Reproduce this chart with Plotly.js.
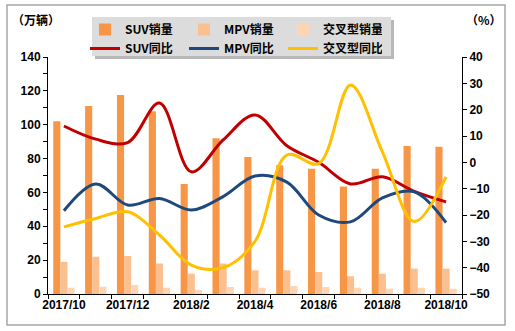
<!DOCTYPE html>
<html>
<head>
<meta charset="utf-8">
<script src="https://cdn.plot.ly/plotly-3.0.1.min.js"></script>
<style>
html,body{margin:0;padding:0;background:#fff;}
#chart{width:515px;height:331px;}
</style>
</head>
<body>
<div id="chart"></div>
<script>
// ---- data ----
var categories = ['2017/10','2017/11','2017/12','2018/1','2018/2','2018/3','2018/4','2018/5','2018/6','2018/7','2018/8','2018/9','2018/10'];
var tickLabels = ['2017/10','','2017/12','','2018/2','','2018/4','','2018/6','','2018/8','','2018/10'];
var suvSales   = [102, 111, 117.5, 108, 65, 92, 81, 76, 74, 63.5, 74, 87.5, 87];
var mpvSales   = [19, 22, 22.5, 18, 12, 18, 14, 14, 13, 10.5, 12, 15, 15];
var crossSales = [3.7, 4.3, 5.3, 3.7, 2.4, 4.1, 3.7, 4.7, 4.1, 3.7, 3.1, 3.7, 3.1];
var suvYoY   = [13.8, 8.8, 7.5, 22.5, -3.6, 8.5, 18, 6.3, 0, -8.2, -5.5, -11, -15];
var mpvYoY   = [-18.4, -8.2, -16.2, -13.7, -18.1, -13, -5.2, -7.5, -20, -22.6, -13.5, -11.2, -22.9];
var crossYoY = [-24.5, -21.3, -18.8, -27.6, -39, -40, -30, 2.8, -0.5, 29.4, 4, -22.5, -5.5];
var seriesNames = ['SUV销量','MPV销量','交叉型销量','SUV同比','MPV同比','交叉型同比'];

var cjk = '"Noto Sans CJK SC", "Noto Sans", sans-serif';
var latin = '"Liberation Sans", Arial, sans-serif';

function bar(y, name, color){
  return {type:'bar', x:categories, y:y, name:name, marker:{color:color}, yaxis:'y', legend:'legend'};
}
function line(y, name, color){
  return {type:'scatter', mode:'lines', x:categories, y:y, name:name, yaxis:'y2', legend:'legend2',
          line:{color:color, width:3, shape:'spline', smoothing:1}};
}

var traces = [
  bar(suvSales, seriesNames[0], '#F79646'),
  bar(mpvSales, seriesNames[1], '#FAC090'),
  bar(crossSales, seriesNames[2], '#FCD5B5'),
  line(suvYoY, seriesNames[3], '#C00000'),
  line(mpvYoY, seriesNames[4], '#1F497D'),
  line(crossYoY, seriesNames[5], '#FFC000')
];

var W = 515, H = 331, L = 48, R = 53, T = 57, B = 37;
var pw = W - L - R, ph = H - T - B;
function px(x){ return (x - L) / pw; }
function py(y){ return 1 - (y - T) / ph; }

var tickFont = {family: latin, size: 12, color: '#000', weight: 'bold'};
var legFont = {family: cjk, size: 12, color: '#000', weight: 'bold'};

var layout = {
  width: W, height: H,
  margin: {l: L, r: R, t: T, b: B, pad: 0},
  paper_bgcolor: '#fff', plot_bgcolor: '#fff',
  barmode: 'group', bargap: 0.33, bargroupgap: 0,
  showlegend: true,
  xaxis: {
    type: 'category', tickvals: categories, ticktext: tickLabels,
    tickson: 'boundaries', ticks: 'outside', ticklen: 4, tickcolor: '#000',
    showline: true, linecolor: '#000', linewidth: 1,
    showgrid: false, zeroline: false, tickfont: tickFont, tickangle: 0
  },
  yaxis: {
    range: [0, 140], dtick: 20, ticks: 'outside', ticklen: 4, tickcolor: '#000',
    minor: {dtick: 10, ticks: 'outside', ticklen: 4, tickcolor: '#000', showgrid: false},
    showline: true, linecolor: '#000', linewidth: 1,
    showgrid: false, zeroline: false, tickfont: tickFont
  },
  yaxis2: {
    overlaying: 'y', side: 'right', range: [-50, 40], dtick: 10,
    ticks: 'outside', ticklen: 4, tickcolor: '#000',
    showline: true, linecolor: '#000', linewidth: 1,
    showgrid: false, zeroline: false, tickfont: tickFont
  },
  legend: {
    orientation: 'h', x: px(85), y: py(15), xanchor: 'left', yanchor: 'top',
    bgcolor: 'rgba(0,0,0,0)', borderwidth: 0, font: legFont,
    entrywidth: 54, entrywidthmode: 'pixels', traceorder: 'normal'
  },
  legend2: {
    orientation: 'h', x: px(85), y: py(34), xanchor: 'left', yanchor: 'top',
    bgcolor: 'rgba(0,0,0,0)', borderwidth: 0, font: legFont,
    entrywidth: 54, entrywidthmode: 'pixels', traceorder: 'normal'
  },
  shapes: [
    {type: 'rect', xref: 'paper', yref: 'paper', x0: px(7), x1: px(505), y0: py(325), y1: py(5),
     line: {color: '#A6A6A6', width: 1.5}, fillcolor: 'rgba(0,0,0,0)', layer: 'below'},
    {type: 'rect', xref: 'paper', yref: 'paper', x0: px(95), x1: px(394), y0: py(59), y1: py(20),
     line: {width: 0}, fillcolor: 'rgba(0,0,0,0.28)', layer: 'above'},
    {type: 'rect', xref: 'paper', yref: 'paper', x0: px(92), x1: px(391), y0: py(56), y1: py(17),
     line: {width: 0}, fillcolor: '#DCDCDC', layer: 'above'}
  ],
  annotations: [
    {text: '（万辆）', xref: 'paper', yref: 'paper', x: px(10), y: py(20), xanchor: 'left', yanchor: 'middle',
     showarrow: false, font: legFont},
    {text: '（%）', xref: 'paper', yref: 'paper', x: px(464), y: py(20), xanchor: 'left', yanchor: 'middle',
     showarrow: false, font: legFont}
  ]
};

Plotly.newPlot('chart', traces, layout, {displayModeBar: false, staticPlot: true});
</script>
</body>
</html>
